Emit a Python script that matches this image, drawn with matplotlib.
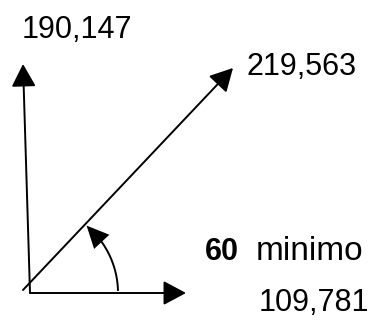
import numpy as np
import matplotlib.pyplot as plt
from matplotlib.patches import FancyArrowPatch

# diagram data (image pixel coordinates, y downward)
origin = (30, 293)
vec_starts = [(30, 293), (30, 293), (23, 290)]
vec_tips = [(23, 64), (186, 293), (233, 68)]

arc_radius = 88
arc_angles = (2, 50)  # degrees, counter-clockwise from horizontal

labels = ['190,147', '219,563', '60', 'minimo', '109,781']
label_pos = [(22, 30), (247, 67), (205, 252), (256, 252), (259, 303)]
label_bold = [False, False, True, False, False]
label_size = [22, 22, 22, 24, 22]

plt.rcParams['font.family'] = ['Liberation Sans', 'DejaVu Sans']

fig = plt.figure(figsize=(3.91, 3.32), dpi=100)
ax = fig.add_axes([0, 0, 1, 1])
ax.set_xlim(0, 391)
ax.set_ylim(332, 0)
ax.axis('off')

# straight vectors
for (x0, y0), (x1, y1) in zip(vec_starts, vec_tips):
    ax.add_patch(FancyArrowPatch((x0, y0), (x1, y1),
                                 arrowstyle='-|>,head_length=14,head_width=7.5',
                                 mutation_scale=1, lw=1.4, color='black',
                                 shrinkA=0, shrinkB=0))

# angle arc with arrow
t = np.radians(np.linspace(arc_angles[0], arc_angles[1] - 6, 60))
ax.plot(origin[0] + arc_radius * np.cos(t), origin[1] - arc_radius * np.sin(t),
        color='black', lw=1.4)
t0, t1 = np.radians(arc_angles[1] - 14), np.radians(arc_angles[1])
ax.add_patch(FancyArrowPatch((origin[0] + arc_radius * np.cos(t0), origin[1] - arc_radius * np.sin(t0)),
                             (origin[0] + arc_radius * np.cos(t1), origin[1] - arc_radius * np.sin(t1)),
                             arrowstyle='-|>,head_length=16,head_width=7.5',
                             mutation_scale=1, lw=0, color='black',
                             shrinkA=0, shrinkB=0))

for txt, (x, y), b, s in zip(labels, label_pos, label_bold, label_size):
    ax.text(x, y, txt, fontsize=s, fontweight='bold' if b else 'normal',
            ha='left', va='center', color='black')

plt.savefig('out.png', dpi=100)
